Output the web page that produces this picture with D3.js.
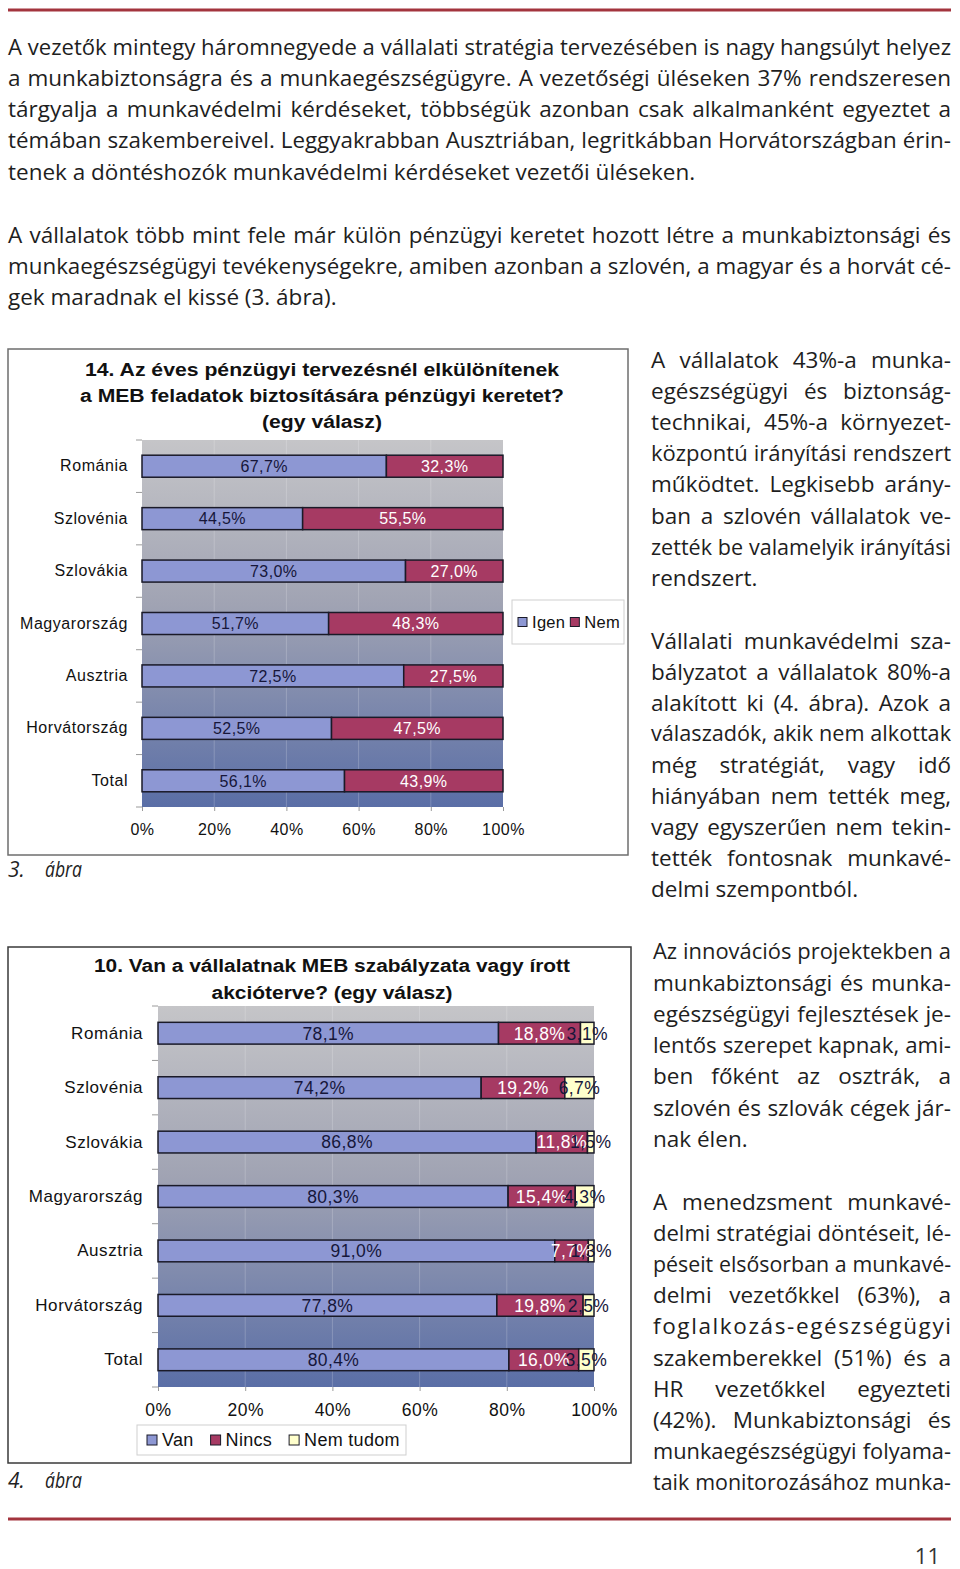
<!DOCTYPE html>
<html><head><meta charset="utf-8">
<script src="https://cdn.jsdelivr.net/npm/d3@7"></script>
<style>body{margin:0;background:#fff}svg{display:block}</style>
</head><body>
<svg id="page" width="960" height="1569"></svg>
<script>
// ---------- DATA ----------
const categories = ["Románia","Szlovénia","Szlovákia","Magyarország","Ausztria","Horvátország","Total"];
// Chart 3. ábra
const igen = [67.7,44.5,73.0,51.7,72.5,52.5,56.1];
const nem  = [32.3,55.5,27.0,48.3,27.5,47.5,43.9];
const legend1 = ["Igen","Nem"];
const title1 = ["14. Az éves pénzügyi tervezésnél elkülönítenek","a MEB feladatok biztosítására pénzügyi keretet?","(egy válasz)"];
// Chart 4. ábra
const van      = [78.1,74.2,86.8,80.3,91.0,77.8,80.4];
const nincs    = [18.8,19.2,11.8,15.4,7.7,19.8,16.0];
const nemTudom = [3.1,6.7,1.5,4.3,1.3,2.5,3.5];
const legend2 = ["Van","Nincs","Nem tudom"];
const title2 = ["10. Van a vállalatnak MEB szabályzata vagy írott","akcióterve? (egy válasz)"];
const tickValues = [0,0.2,0.4,0.6,0.8,1];

// ---------- TEXT ----------
const para1 = [
 "A vezetők mintegy háromnegyede a vállalati stratégia tervezésében is nagy hangsúlyt helyez",
 "a munkabiztonságra és a munkaegészségügyre. A vezetőségi üléseken 37% rendszeresen",
 "tárgyalja a munkavédelmi kérdéseket, többségük azonban csak alkalmanként egyeztet a",
 "témában szakembereivel. Leggyakrabban Ausztriában, legritkábban Horvátországban érin-",
 "tenek a döntéshozók munkavédelmi kérdéseket vezetői üléseken."];
const para2 = [
 "A vállalatok több mint fele már külön pénzügyi keretet hozott létre a munkabiztonsági és",
 "munkaegészségügyi tevékenységekre, amiben azonban a szlovén, a magyar és a horvát cé-",
 "gek maradnak el kissé (3. ábra)."];
const col1 = ["A vállalatok 43%-a munka-","egészségügyi és biztonság-","technikai, 45%-a környezet-",
 "központú irányítási rendszert","működtet. Legkisebb arány-","ban a szlovén vállalatok ve-",
 "zették be valamelyik irányítási","rendszert."];
const col2 = ["Vállalati munkavédelmi sza-","bályzatot a vállalatok 80%-a","alakított ki (4. ábra). Azok a",
 "válaszadók, akik nem alkottak","még stratégiát, vagy idő","hiányában nem tették meg,",
 "vagy egyszerűen nem tekin-","tették fontosnak munkavé-","delmi szempontból."];
const col3 = ["Az innovációs projektekben a","munkabiztonsági és munka-","egészségügyi fejlesztések je-",
 "lentős szerepet kapnak, ami-","ben főként az osztrák, a","szlovén és szlovák cégek jár-","nak élen."];
const col4 = ["A menedzsment munkavé-","delmi stratégiai döntéseit, lé-","péseit elsősorban a munkavé-",
 "delmi vezetőkkel (63%), a","foglalkozás-egészségügyi","szakemberekkel (51%) és a",
 "HR vezetőkkel egyezteti","(42%). Munkabiztonsági és","munkaegészségügyi folyama-",
 "taik monitorozásához munka-"];

const svg = d3.select("#page");
svg.append("rect").attr("width",960).attr("height",1569).attr("fill","#fff");

const HUMAN = "'Open Sans','Noto Sans',sans-serif";
const ARIAL = "'Liberation Sans',Arial,sans-serif";

// rules
[10,1519].forEach(y=>svg.append("line").attr("x1",8).attr("x2",951).attr("y1",y).attr("y2",y)
  .attr("stroke","#a3343e").attr("stroke-width",3));

// justified text block (word-spacing justification); the last line of a paragraph is left free
function textBlock(lines, x, y0, step, width, size, lastFree){
  lines.forEach((t,i)=>{
    const el = svg.append("text").attr("x",x).attr("y",y0+i*step).attr("dy","0.34em")
      .attr("font-family",HUMAN).attr("font-size",size).attr("fill","#1e1e1e").text(t);
    let W = el.node().getComputedTextLength();
    if (W > width) {               // shrink the line a little so it fits
      el.attr("font-size", size*(width-0.5)/W);
      W = el.node().getComputedTextLength();
    }
    const isLast = lastFree && i===lines.length-1;
    const spaces = (t.match(/ /g)||[]).length;
    if (isLast) return;
    if (W < width - 0.5) {
      if (spaces>0 && (width-W)/spaces < 30) {
        el.style("word-spacing", ((width-W)/spaces)+"px");
      } else {
        el.attr("letter-spacing", (width-W)/Math.max(1,t.length-1));
      }
    }
  });
}
textBlock(para1, 8, 47, 31.25, 943, 22.5, true);
textBlock(para2, 8, 235, 31, 943, 22.5, true);
textBlock(col1, 651, 360, 31.2, 300, 22.5, true);
textBlock(col2, 651, 641, 31.0, 300, 22.5, true);
textBlock(col3, 653, 952, 31.2, 298, 22.5, true);
textBlock(col4, 653, 1202, 31.2, 298, 22.5, false);

svg.append("text").attr("x",940).attr("y",1556).attr("dy","0.35em").attr("text-anchor","end")
  .attr("font-family",HUMAN).attr("font-size",22).attr("fill","#333").text("11");

// captions
function caption(num, y){
  const g = svg.append("g").attr("font-family",HUMAN).attr("font-style","italic").attr("font-size",21).attr("fill","#222");
  g.append("text").attr("x",8).attr("y",y).attr("dy","0.35em").text(num);
  g.append("text").attr("x",45).attr("y",y).attr("dy","0.35em").attr("textLength",37).attr("lengthAdjust","spacingAndGlyphs").text("ábra");
}
caption("3.",870);
caption("4.",1481);

const colors = ["#8d97d3","#a63a63","#ffffcc"];
const labelColors = ["#16163a","#ffffff","#16163a"];
const fmt = v => d3.format(".1f")(v).replace(".",",")+"%";

const defs = svg.append("defs");
function gradient(id){
  const lg = defs.append("linearGradient").attr("id",id).attr("x1",0).attr("y1",0).attr("x2",0).attr("y2",1);
  lg.append("stop").attr("offset","0%").attr("stop-color","#c5c5c8");
  lg.append("stop").attr("offset","45%").attr("stop-color","#a0a3b3");
  lg.append("stop").attr("offset","100%").attr("stop-color","#5a6ea6");
}
gradient("bg1"); gradient("bg2");

function drawChart(o){
  svg.append("rect").attr("x",o.box[0]).attr("y",o.box[1]).attr("width",o.box[2]-o.box[0]).attr("height",o.box[3]-o.box[1])
    .attr("fill","#fff").attr("stroke",o.boxStroke).attr("stroke-width",1.5);
  o.title.forEach((t,i)=>{
    svg.append("text").attr("x",o.titleX).attr("y",o.titleY[i]).attr("dy","0.35em").attr("text-anchor","middle")
      .attr("font-family",ARIAL).attr("font-weight","bold").attr("font-size",o.titleSize).attr("fill","#111")
      .attr("textLength",o.titleW[i]).attr("lengthAdjust","spacingAndGlyphs").text(t);
  });
  const rows = categories.map((c,i)=>{ const r={cat:c}; o.series.forEach((s,k)=>r["s"+k]=s[i]); return r; });
  const keys = o.series.map((s,k)=>"s"+k);
  const stacked = d3.stack().keys(keys).offset(d3.stackOffsetExpand)(rows);
  const x = d3.scaleLinear().domain([0,1]).range([o.plot[0],o.plot[1]]);
  const y = d3.scaleBand().domain(categories).range([o.plot[2],o.plot[3]]).paddingInner(o.pad).paddingOuter(o.pad/2);
  const g = svg.append("g");
  g.append("rect").attr("x",x(0)).attr("y",o.plot[2]).attr("width",x(1)-x(0)).attr("height",o.plot[3]-o.plot[2])
    .attr("fill",`url(#${o.bg})`);
  g.selectAll(".grid").data(tickValues.slice(1,-1)).join("line")
    .attr("x1",d=>x(d)).attr("x2",d=>x(d)).attr("y1",o.plot[2]).attr("y2",o.plot[3])
    .attr("stroke","#ffffff").attr("stroke-opacity",0.2).attr("stroke-width",1);
  const bounds = d3.range(categories.length+1).map(i=>o.plot[2]+i*((o.plot[3]-o.plot[2])/categories.length));
  g.selectAll(".yt").data(bounds).join("line").attr("x1",x(0)-6).attr("x2",x(0)).attr("y1",d=>d).attr("y2",d=>d)
    .attr("stroke","#9a9a9a").attr("stroke-width",1);
  stacked.forEach((layer,k)=>{
    g.selectAll(".b"+k).data(layer).join("rect")
      .attr("x",d=>x(d[0])).attr("width",d=>x(d[1])-x(d[0]))
      .attr("y",d=>y(d.data.cat)).attr("height",y.bandwidth())
      .attr("fill",colors[k]).attr("stroke","#1a1a28").attr("stroke-width",1.5);
  });
  stacked.forEach((layer,k)=>{
    g.selectAll(".l"+k).data(layer).join("text")
      .attr("x",d=>(x(d[0])+x(d[1]))/2).attr("y",d=>y(d.data.cat)+y.bandwidth()/2).attr("dy","0.36em")
      .attr("text-anchor","middle").attr("font-family",ARIAL).attr("font-size",o.labelSize)
      .attr("letter-spacing",0.4).attr("fill",labelColors[k]).text(d=>fmt(d.data["s"+k]));
  });
  const ya = g.append("g").attr("transform",`translate(${x(0)},0)`)
    .call(d3.axisLeft(y).tickSize(0).tickPadding(o.yPad));
  ya.select(".domain").remove();
  ya.selectAll("text").attr("font-family",ARIAL).attr("font-size",o.catSize).attr("fill","#111").attr("letter-spacing",0.55);
  const xa = g.append("g").attr("transform",`translate(0,${o.plot[3]})`)
    .call(d3.axisBottom(x).tickValues(tickValues).tickFormat(d3.format(".0%")).tickSize(4).tickPadding(o.xPad));
  xa.select(".domain").remove();
  xa.selectAll("line").attr("stroke","#9a9a9a");
  xa.selectAll("text").attr("font-family",ARIAL).attr("font-size",o.tickSize).attr("fill","#111").attr("letter-spacing",0.5);
  const lg = svg.append("g");
  lg.append("rect").attr("x",o.legBox[0]).attr("y",o.legBox[1]).attr("width",o.legBox[2]-o.legBox[0]).attr("height",o.legBox[3]-o.legBox[1])
    .attr("fill","#fff").attr("stroke","#cfcfcf").attr("stroke-width",1);
  let cx = o.legBox[0]+o.legStart;
  const cy = (o.legBox[1]+o.legBox[3])/2;
  o.legend.forEach((name,k)=>{
    lg.append("rect").attr("x",cx).attr("y",cy-o.sw/2).attr("width",o.sw).attr("height",o.sw)
      .attr("fill",colors[k]).attr("stroke","#1a1a28").attr("stroke-width",1);
    const t = lg.append("text").attr("x",cx+o.sw+5).attr("y",cy).attr("dy","0.36em")
      .attr("font-family",ARIAL).attr("font-size",o.legSize).attr("fill","#111").attr("letter-spacing",0.3).text(name);
    cx += o.sw+5+t.node().getComputedTextLength()+o.legGap;
  });
}

drawChart({
  box:[8,349,628,855], boxStroke:"#6e6e6e",
  title:title1, titleX:322, titleY:[370,396,422], titleW:[474,484,120], titleSize:18,
  series:[igen,nem], plot:[142,503,440,807], pad:0.58, bg:"bg1",
  labelSize:16, catSize:16, tickSize:16, yPad:14, xPad:13,
  legend:legend1, legBox:[512,600,624,644], legStart:6, sw:9, legSize:16.5, legGap:5
});
drawChart({
  box:[8,947,631,1463], boxStroke:"#3a3a3a",
  title:title2, titleX:332, titleY:[966,993], titleW:[476,241], titleSize:18,
  series:[van,nincs,nemTudom], plot:[158,594,1006,1387], pad:0.6, bg:"bg2",
  labelSize:17.5, catSize:17, tickSize:17.5, yPad:15, xPad:13,
  legend:legend2, legBox:[137,1425,406,1455], legStart:10, sw:10, legSize:18, legGap:17
});
</script>
</body></html>
